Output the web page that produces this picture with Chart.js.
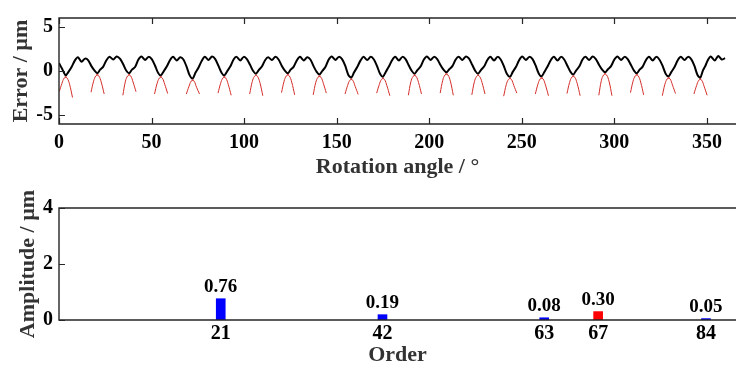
<!DOCTYPE html>
<html>
<head>
<meta charset="utf-8">
<script src="https://cdn.jsdelivr.net/npm/chart.js@4.4.1/dist/chart.umd.min.js"></script>
<style>
  html, body { margin: 0; padding: 0; background: #fff; overflow: hidden; }
  .panel { position: absolute; left: 0; }
</style>
</head>
<body>
<div class="panel" style="top:0"><canvas id="errorChart" width="736" height="190"></canvas></div>
<div class="panel" style="top:190px"><canvas id="orderChart" width="736" height="179"></canvas></div>
<script>
// top panel: measured error over one revolution
const errorCurve = [
  [0, 0.9], [1.8, 0.2],
  [3.6,-0.5],[5.1,-0.1],[6.8,0.45],[8.6,1.2],[10.2,1.55],[12.2,1.05],[14.1,1.4],[15.8,1.2],[17.5,0.55],[19.2,0.05],
  [20.7,-0.25],[22.2,0.15],[23.9,0.5],[25.7,1.25],[27.3,1.6],[29.3,1.3],[31.2,1.65],[32.9,1.4],[34.6,0.8],[36.3,0.05],
  [37.9,-0.25],[39.4,0.15],[41.1,0.45],[42.9,1.3],[44.5,1.65],[46.5,1.25],[48.4,1.6],[50.1,1.35],[51.8,0.65],[53.5,-0.2],
  [55.0,-0.5],[56.5,-0.05],[58.2,0.5],[60.0,1.25],[61.6,1.6],[63.6,1.2],[65.5,1.55],[67.2,1.3],[68.9,0.5],[70.6,-0.5],
  [72.2,-0.85],[73.7,-0.2],[75.4,0.4],[77.2,1.2],[78.8,1.6],[80.8,1.25],[82.7,1.65],[84.4,1.35],[86.1,0.6],[87.8,-0.2],
  [89.3,-0.5],[90.8,-0.05],[92.5,0.5],[94.3,1.3],[95.9,1.6],[97.9,1.2],[99.8,1.6],[101.5,1.35],[103.2,0.7],[104.9,0.0],
  [106.4,-0.3],[107.9,0.1],[109.6,0.5],[111.4,1.25],[113.0,1.55],[115.0,1.25],[116.9,1.6],[118.6,1.3],[120.3,0.6],[122.0,0.05],
  [123.6,-0.25],[125.1,0.15],[126.8,0.5],[128.6,1.25],[130.2,1.6],[132.2,1.2],[134.1,1.55],[135.8,1.3],[137.5,0.55],[139.2,-0.1],
  [140.7,-0.4],[142.2,0.0],[143.9,0.45],[145.7,1.3],[147.3,1.65],[149.3,1.25],[151.2,1.6],[152.9,1.35],[154.6,0.6],[156.3,-0.45],
  [157.9,-0.75],[159.4,-0.15],[161.1,0.45],[162.9,1.2],[164.5,1.6],[166.5,1.25],[168.4,1.6],[170.1,1.3],[171.8,0.55],[173.5,-0.35],
  [175.0,-0.65],[176.5,-0.1],[178.2,0.5],[180.0,1.25],[181.6,1.6],[183.6,1.2],[185.5,1.6],[187.2,1.35],[188.9,0.65],[190.6,0.0],
  [192.1,-0.3],[193.6,0.1],[195.3,0.5],[197.1,1.3],[198.7,1.65],[200.7,1.25],[202.6,1.6],[204.3,1.35],[206.0,0.7],[207.7,0.15],
  [209.3,-0.15],[210.8,0.2],[212.5,0.55],[214.3,1.3],[215.9,1.6],[217.9,1.25],[219.8,1.65],[221.5,1.4],[223.2,0.7],[224.9,0.0],
  [226.4,-0.3],[227.9,0.1],[229.6,0.5],[231.4,1.25],[233.0,1.6],[235.0,1.2],[236.9,1.6],[238.6,1.3],[240.3,0.55],[242.0,-0.35],
  [243.6,-0.65],[245.1,-0.1],[246.8,0.45],[248.6,1.25],[250.2,1.65],[252.2,1.25],[254.1,1.6],[255.8,1.35],[257.5,0.6],[259.2,-0.3],
  [260.7,-0.6],[262.2,-0.1],[263.9,0.5],[265.7,1.25],[267.3,1.6],[269.3,1.2],[271.2,1.6],[272.9,1.3],[274.6,0.6],[276.3,-0.1],
  [277.8,-0.4],[279.3,0.05],[281.0,0.5],[282.8,1.3],[284.4,1.6],[286.4,1.25],[288.3,1.65],[290.0,1.35],[291.7,0.7],[293.4,0.15],
  [295.0,-0.15],[296.5,0.2],[298.2,0.55],[300.0,1.3],[301.6,1.65],[303.6,1.25],[305.5,1.6],[307.2,1.35],[308.9,0.7],[310.6,0.05],
  [312.1,-0.25],[313.6,0.15],[315.3,0.5],[317.1,1.25],[318.7,1.6],[320.7,1.2],[322.6,1.6],[324.3,1.3],[326.0,0.6],[327.7,-0.3],
  [329.3,-0.6],[330.8,-0.1],[332.5,0.45],[334.3,1.25],[335.9,1.6],[337.9,1.25],[339.8,1.6],[341.5,1.35],[343.2,0.6],[344.9,-0.45],
  [346.4,-0.75],[347.9,0.1],[349.2,0.6],[350.4,1.2],[352.0,1.65],[354.2,1.2],[356.1,1.7],[358.0,1.3],[359.8,1.45]
];

// red tool arcs, one left and one right flank under every valley
const toolLeft = [
  [[0.2,-2.3],[1.6,-1.4],[2.8,-0.8],[4.1,-0.65]],
  [[17.3,-2.4],[18.7,-1.15],[19.9,-0.55],[21.2,-0.4]],
  [[34.5,-2.75],[35.9,-1.15],[37.1,-0.55],[38.4,-0.4]],
  [[51.6,-2.6],[53.0,-1.4],[54.2,-0.8],[55.5,-0.65]],
  [[68.8,-2.6],[70.2,-1.75],[71.4,-1.15],[72.7,-1.0]],
  [[85.9,-2.5],[87.3,-1.4],[88.5,-0.8],[89.8,-0.65]],
  [[103.0,-2.6],[104.4,-1.2],[105.6,-0.6],[106.9,-0.45]],
  [[120.2,-2.45],[121.6,-1.15],[122.8,-0.55],[124.1,-0.4]],
  [[137.3,-2.7],[138.7,-1.3],[139.9,-0.7],[141.2,-0.55]],
  [[154.5,-2.6],[155.9,-1.65],[157.1,-1.05],[158.4,-0.9]],
  [[171.6,-2.5],[173.0,-1.55],[174.2,-0.95],[175.5,-0.8]],
  [[188.7,-2.75],[190.1,-1.2],[191.3,-0.6],[192.6,-0.45]],
  [[205.9,-2.5],[207.3,-1.05],[208.5,-0.45],[209.8,-0.3]],
  [[223.0,-2.7],[224.4,-1.2],[225.6,-0.6],[226.9,-0.45]],
  [[240.2,-2.85],[241.6,-1.55],[242.8,-0.95],[244.1,-0.8]],
  [[257.3,-2.6],[258.7,-1.5],[259.9,-0.9],[261.2,-0.75]],
  [[274.4,-2.55],[275.8,-1.3],[277.0,-0.7],[278.3,-0.55]],
  [[291.6,-2.75],[293.0,-1.05],[294.2,-0.45],[295.5,-0.3]],
  [[308.7,-2.45],[310.1,-1.15],[311.3,-0.55],[312.6,-0.4]],
  [[325.9,-2.8],[327.3,-1.5],[328.5,-0.9],[329.8,-0.75]],
  [[343.0,-2.6],[344.4,-1.65],[345.6,-1.05],[346.9,-0.9]]
];
const toolRight = [
  [[3.1,-0.65],[4.4,-0.8],[5.7,-1.5],[7.3,-3.0]],
  [[20.2,-0.4],[21.5,-0.55],[22.8,-1.25],[24.4,-2.6]],
  [[37.4,-0.4],[38.7,-0.55],[40.0,-1.25],[41.6,-2.35]],
  [[54.5,-0.65],[55.8,-0.8],[57.1,-1.5],[58.7,-2.55]],
  [[71.7,-1.0],[73.0,-1.15],[74.3,-1.85],[75.9,-2.6]],
  [[88.8,-0.65],[90.1,-0.8],[91.4,-1.5],[93.0,-2.75]],
  [[105.9,-0.45],[107.2,-0.6],[108.5,-1.3],[110.1,-2.8]],
  [[123.1,-0.4],[124.4,-0.55],[125.7,-1.25],[127.3,-2.7]],
  [[140.2,-0.55],[141.5,-0.7],[142.8,-1.4],[144.4,-2.5]],
  [[157.4,-0.9],[158.7,-1.05],[160.0,-1.75],[161.6,-2.65]],
  [[174.5,-0.8],[175.8,-0.95],[177.1,-1.65],[178.7,-2.8]],
  [[191.6,-0.45],[192.9,-0.6],[194.2,-1.3],[195.8,-2.6]],
  [[208.8,-0.3],[210.1,-0.45],[211.4,-1.15],[213.0,-2.75]],
  [[225.9,-0.45],[227.2,-0.6],[228.5,-1.3],[230.1,-2.6]],
  [[243.1,-0.8],[244.4,-0.95],[245.7,-1.65],[247.3,-2.5]],
  [[260.2,-0.75],[261.5,-0.9],[262.8,-1.6],[264.4,-2.8]],
  [[277.3,-0.55],[278.6,-0.7],[279.9,-1.4],[281.5,-2.8]],
  [[294.5,-0.3],[295.8,-0.45],[297.1,-1.15],[298.7,-2.8]],
  [[311.6,-0.4],[312.9,-0.55],[314.2,-1.25],[315.8,-2.7]],
  [[328.8,-0.75],[330.1,-0.9],[331.4,-1.6],[333.0,-2.55]],
  [[345.9,-0.9],[347.2,-1.05],[348.5,-1.75],[350.1,-2.75]]
];
const angleTicks = [0, 50, 100, 150, 200, 250, 300, 350];
const errorTicks = [-5, 0, 5];

// bottom panel: harmonic amplitudes
const orderLabels = ['21', '42', '63', '67', '84'];
const orderPos = [21, 42, 63, 70, 84];   // where each bar sits on the order axis in the figure
const amplitudes = [0.76, 0.19, 0.08, 0.30, 0.05];
const barColors = ['#0000ff', '#0000ff', '#0000ff', '#ff0000', '#0000ff'];
const ampTicks = [0, 2, 4];

const serif = "'Liberation Serif', 'Times New Roman', serif";
const axisColor = '#262626';
Chart.defaults.font.family = serif;
Chart.defaults.font.weight = 'bold';
Chart.defaults.color = '#000';

const toXY = p => ({ x: p[0], y: p[1] });
const arcs = list => list.flatMap(arm => [...arm.map(toXY), { x: arm[arm.length - 1][0], y: null }]);

// open box (left, top, bottom) round the plot area plus inward tick marks
const frame = {
  id: 'frame',
  afterDraw(chart, args, opts) {
    const { ctx, chartArea: a, scales } = chart;
    const len = 6;
    ctx.save();
    ctx.strokeStyle = axisColor;
    ctx.lineWidth = 1.4;
    ctx.beginPath();
    ctx.moveTo(a.right, a.top); ctx.lineTo(a.left, a.top);
    ctx.lineTo(a.left, a.bottom); ctx.lineTo(a.right, a.bottom);
    ctx.stroke();
    ctx.lineWidth = 1.2;
    ctx.beginPath();
    if (opts.xTicks) {
      scales.x.ticks.forEach(t => {
        const px = Math.round(scales.x.getPixelForValue(t.value)) + 0.5;
        ctx.moveTo(px, a.bottom); ctx.lineTo(px, a.bottom - len);
        ctx.moveTo(px, a.top); ctx.lineTo(px, a.top + len);
      });
    }
    scales.y.ticks.forEach(t => {
      const py = Math.round(scales.y.getPixelForValue(t.value)) + 0.5;
      ctx.moveTo(a.left, py); ctx.lineTo(a.left + len, py);
    });
    ctx.stroke();
    ctx.restore();
  }
};

const barValues = {
  id: 'barValues',
  afterDatasetsDraw(chart) {
    const { ctx } = chart;
    const meta = chart.getDatasetMeta(0);
    ctx.save();
    ctx.font = 'bold 19px ' + serif;
    ctx.fillStyle = '#000';
    ctx.textAlign = 'center';
    ctx.textBaseline = 'middle';
    meta.data.forEach((bar, i) => {
      ctx.fillText(amplitudes[i].toFixed(2), bar.x, bar.y - 12);
    });
    ctx.restore();
  }
};

new Chart(document.getElementById('errorChart'), {
  type: 'line',
  data: {
    datasets: [
      {
        data: arcs(toolLeft),
        borderColor: 'rgb(212,45,40)',
        borderWidth: 1,
        pointRadius: 0,
        tension: 0.4,
        spanGaps: false
      },
      {
        data: arcs(toolRight),
        borderColor: 'rgb(212,45,40)',
        borderWidth: 1,
        pointRadius: 0,
        tension: 0.4,
        spanGaps: false
      },
      {
        data: errorCurve.map(toXY),
        borderColor: '#000',
        borderWidth: 2,
        pointRadius: 0,
        tension: 0.3
      }
    ]
  },
  options: {
    responsive: false,
    animation: false,
    layout: { padding: { top: 10, left: 0, right: 0, bottom: 0 } },
    plugins: { legend: { display: false }, tooltip: { enabled: false }, frame: { xTicks: true } },
    scales: {
      x: {
        type: 'linear',
        min: 0,
        max: 365.7,
        grid: { display: false, drawTicks: false },
        border: { display: false },
        afterBuildTicks: s => { s.ticks = angleTicks.map(v => ({ value: v })); },
        afterFit: s => { s.height = 66; },
        ticks: { padding: 7, font: { size: 20 }, color: '#000' },
        title: { display: true, text: 'Rotation angle / °', font: { size: 22 }, color: '#333', padding: { top: 0, bottom: 9 } }
      },
      y: {
        min: -6,
        max: 6,
        grid: { display: false, drawTicks: false },
        border: { display: false },
        afterBuildTicks: s => { s.ticks = errorTicks.map(v => ({ value: v })); },
        afterFit: s => { s.width = 59; },
        ticks: { padding: 6, font: { size: 20 }, color: '#000' },
        title: { display: true, text: 'Error / µm', font: { size: 22 }, color: '#333', padding: { top: 8, bottom: 0 } }
      }
    }
  },
  plugins: [frame]
});

new Chart(document.getElementById('orderChart'), {
  type: 'bar',
  data: {
    datasets: [{
      data: orderPos.map((x, i) => ({ x: x, y: amplitudes[i] })),
      backgroundColor: barColors,
      barThickness: 9
    }]
  },
  options: {
    responsive: false,
    animation: false,
    layout: { padding: { top: 16, left: 0, right: 0, bottom: 0 } },
    plugins: { legend: { display: false }, tooltip: { enabled: false }, frame: { xTicks: false } },
    scales: {
      x: {
        type: 'linear',
        offset: false,
        min: 0,
        max: 87.9,
        grid: { display: false, drawTicks: false, offset: false },
        border: { display: false },
        afterBuildTicks: s => { s.ticks = orderPos.map(v => ({ value: v })); },
        afterFit: s => { s.height = 49; },
        ticks: {
          padding: 2,
          autoSkip: false,
          maxRotation: 0,
          font: { size: 20 },
          color: '#000',
          callback: (v, i) => orderLabels[i]
        },
        title: { display: true, text: 'Order', font: { size: 22 }, color: '#333', padding: { top: 0, bottom: 0 } }
      },
      y: {
        min: 0,
        max: 4,
        grid: { display: false, drawTicks: false },
        border: { display: false },
        afterBuildTicks: s => { s.ticks = ampTicks.map(v => ({ value: v })); },
        afterFit: s => { s.width = 59; },
        ticks: { padding: 6, font: { size: 20 }, color: '#000' },
        title: { display: true, text: 'Amplitude / µm', font: { size: 22 }, color: '#333', padding: { top: 15, bottom: 0 } }
      }
    }
  },
  plugins: [frame, barValues]
});
</script>
</body>
</html>
